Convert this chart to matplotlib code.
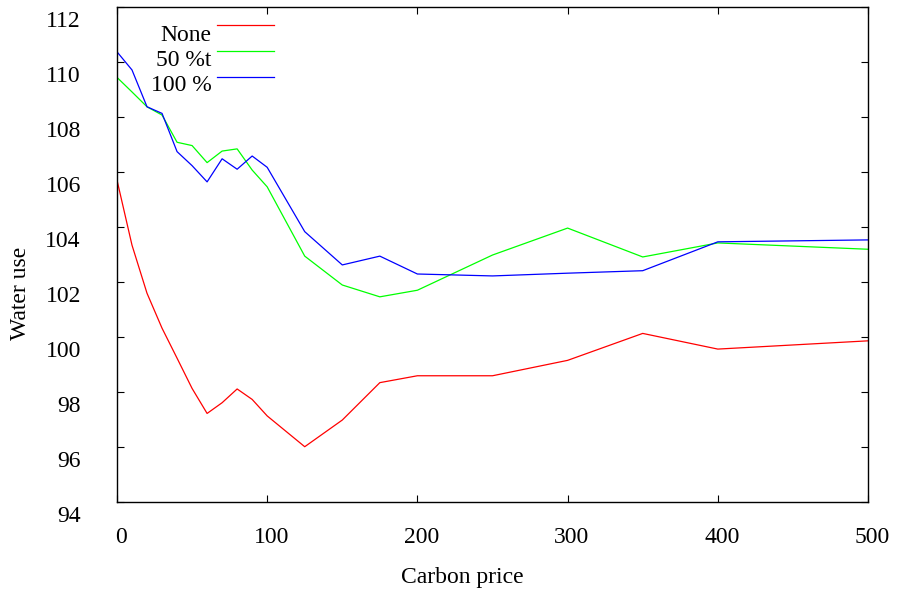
import numpy as np
import matplotlib
matplotlib.use("Agg")
import matplotlib.pyplot as plt
from matplotlib.transforms import ScaledTranslation

# carbon price levels and water use for each scenario
price = [0, 10, 20, 30, 40, 50, 60, 70, 80, 90, 100, 125, 150, 175, 200, 250, 300, 350, 400, 500]
water_none = [105.7, 103.33, 101.58, 100.31, 99.22, 98.12, 97.21, 97.60, 98.10, 97.72,
              97.12, 96.0, 96.97, 98.33, 98.58, 98.58, 99.14, 100.12, 99.55, 99.85]
water_50 = [109.43, 108.9, 108.36, 108.06, 107.07, 106.95, 106.33, 106.75, 106.83, 106.06,
            105.45, 102.93, 101.88, 101.45, 101.69, 102.97, 103.95, 102.90, 103.41, 103.18]
water_100 = [110.36, 109.70, 108.36, 108.12, 106.73, 106.22, 105.63, 106.47, 106.09, 106.57,
             106.16, 103.82, 102.61, 102.93, 102.28, 102.21, 102.31, 102.40, 103.45, 103.52]

labels = ["None", "50 %t", "100 %"]
colors = ["#ff0000", "#00ff00", "#0000ff"]

plt.rcParams['font.family'] = ['Liberation Serif', 'DejaVu Serif']
plt.rcParams['font.size'] = 17

fig = plt.figure(figsize=(8.97, 5.92), dpi=100)
ax = fig.add_axes([0.1304, 0.1525, 0.8373, 0.8362])

for ys, c in zip([water_none, water_50, water_100], colors):
    ax.plot(price, ys, color=c, lw=0.9)

ax.set_xlim(0, 500)
ax.set_ylim(94, 112)
ax.set_xticks(np.arange(0, 501, 100))
ax.set_yticks(np.arange(94, 113, 2))
ax.tick_params(direction='in', length=5, width=0.8, top=True, right=True)
ax.tick_params(axis='y', pad=26)
ax.tick_params(axis='x', pad=18)
for s in ax.spines.values():
    s.set_linewidth(1.0)

# labels sit a little below / right of their ticks, like the gnuplot output
fig.canvas.draw()
for t in ax.get_yticklabels():
    t.set_transform(t.get_transform() + ScaledTranslation(0, -9 / 72, fig.dpi_scale_trans))
for t in ax.get_xticklabels():
    t.set_transform(t.get_transform() + ScaledTranslation(3 / 72, 0, fig.dpi_scale_trans))

ax.set_xlabel("Carbon price")
ax.set_ylabel("Water use")
ax.xaxis.set_label_coords(0.46, -0.131)
ax.yaxis.set_label_coords(-0.114, 0.4216)

# gnuplot-style key: right-aligned text followed by a line sample
text_rows = [0.9408, 0.8923, 0.8418]
line_rows = [0.963, 0.911, 0.8586]
for lab, c, yt, yl in zip(labels, colors, text_rows, line_rows):
    ax.text(0.126, yt, lab, transform=ax.transAxes, ha='right', va='center')
    ax.plot([0.133, 0.2095], [yl, yl], color=c, lw=0.9, transform=ax.transAxes)

fig.savefig("out.png", dpi=100)
